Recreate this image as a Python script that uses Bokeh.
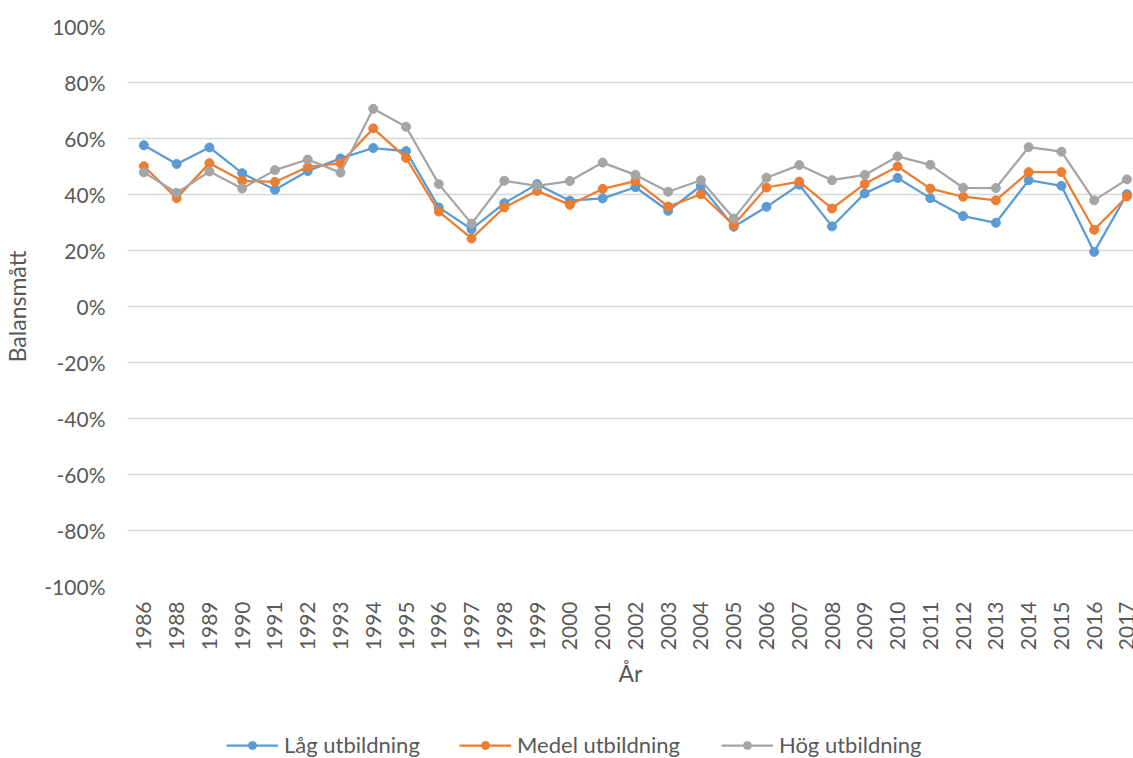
import math
from bokeh.plotting import figure
from bokeh.layouts import column
from bokeh.models import Range1d, FixedTicker, NumeralTickFormatter, Legend, LegendItem
from bokeh.embed import file_html
from bokeh.resources import INLINE

years = ["1986", "1988", "1989", "1990", "1991", "1992", "1993", "1994", "1995", "1996",
         "1997", "1998", "1999", "2000", "2001", "2002", "2003", "2004", "2005", "2006",
         "2007", "2008", "2009", "2010", "2011", "2012", "2013", "2014", "2015", "2016",
         "2017"]

lag = [0.576, 0.509, 0.568, 0.476, 0.417, 0.484, 0.529, 0.566, 0.555, 0.354,
       0.276, 0.369, 0.437, 0.378, 0.386, 0.426, 0.342, 0.431, 0.285, 0.356,
       0.435, 0.286, 0.404, 0.459, 0.387, 0.323, 0.299, 0.451, 0.431, 0.195,
       0.401]
medel = [0.501, 0.387, 0.512, 0.449, 0.445, 0.498, 0.512, 0.636, 0.531, 0.339,
         0.243, 0.354, 0.413, 0.363, 0.420, 0.448, 0.357, 0.401, 0.291, 0.425,
         0.446, 0.350, 0.438, 0.500, 0.421, 0.392, 0.379, 0.480, 0.480, 0.274,
         0.393]
hog = [0.479, 0.406, 0.482, 0.421, 0.487, 0.525, 0.478, 0.706, 0.642, 0.437,
       0.296, 0.449, 0.431, 0.448, 0.514, 0.470, 0.410, 0.451, 0.314, 0.460,
       0.505, 0.451, 0.470, 0.536, 0.506, 0.424, 0.423, 0.569, 0.553, 0.379,
       0.454]

series_names = ["Låg utbildning", "Medel utbildning", "Hög utbildning"]
series_colors = ["#5B9BD5", "#ED7D31", "#A5A5A5"]
y_ticks = [-1.0, -0.8, -0.6, -0.4, -0.2, 0.0, 0.2, 0.4, 0.6, 0.8, 1.0]

FONT = "Lato"
TXT = "#595959"
W = 1133
H_MAIN = 728
H_LEG = 30

idx = list(range(len(years)))
series = [lag, medel, hog]

p = figure(width=W, height=H_MAIN,
           x_range=Range1d(-0.5, 30.2), y_range=Range1d(-1, 1),
           output_backend="svg", toolbar_location=None,
           min_border_left=126, min_border_right=0,
           min_border_top=26, min_border_bottom=H_MAIN - 586)
p.outline_line_color = None
p.xgrid.visible = False
p.ygrid.grid_line_color = "#d9d9d9"
p.ygrid.grid_line_width = 1.5

p.yaxis.ticker = FixedTicker(ticks=y_ticks)
p.yaxis.formatter = NumeralTickFormatter(format="0%")
p.xaxis.ticker = FixedTicker(ticks=idx)
p.xaxis.major_label_overrides = {i: y for i, y in enumerate(years)}
p.xaxis.major_label_orientation = math.pi / 2

for ax in (p.xaxis[0], p.yaxis[0]):
    ax.axis_line_color = None
    ax.major_tick_line_color = None
    ax.minor_tick_line_color = None
    ax.major_tick_out = 0
    ax.major_tick_in = 0
    ax.major_label_text_font = FONT
    ax.major_label_text_font_size = "21px"
    ax.major_label_text_color = TXT
    ax.axis_label_text_font = FONT
    ax.axis_label_text_font_size = "23px"
    ax.axis_label_text_color = TXT
    ax.axis_label_text_font_style = "normal"

p.yaxis.axis_label = "Balansmått"
p.yaxis.major_label_standoff = 22
p.yaxis.axis_label_standoff = 10
p.xaxis.axis_label = "År"
p.xaxis.major_label_standoff = 15
p.xaxis.axis_label_standoff = 6

for vals, color in zip(series, series_colors):
    p.line(idx, vals, line_color=color, line_width=2.25)
    p.scatter(idx, vals, size=9, fill_color=color, line_color=color)

# legend row: same series drawn in a strip whose x range lies beyond the data,
# so only the legend entries are visible
lf = figure(width=W, height=H_LEG, x_range=Range1d(100, 101), y_range=Range1d(-1, 1),
            output_backend="svg", toolbar_location=None,
            min_border_left=0, min_border_right=0, min_border_top=0, min_border_bottom=0)
lf.outline_line_color = None
lf.axis.visible = False
lf.grid.visible = False

legend_x = [99, 332, 594]
for name, vals, color, lx in zip(series_names, series, series_colors, legend_x):
    lr = lf.line(idx, vals, line_color=color, line_width=2.25)
    sr = lf.scatter(idx, vals, size=9, fill_color=color, line_color=color)
    lg = Legend(items=[LegendItem(label=name, renderers=[lr, sr])],
                location=(lx, 0), orientation="horizontal",
                padding=0, margin=0, border_line_color=None,
                background_fill_alpha=0, glyph_width=52, glyph_height=20,
                label_standoff=6, label_text_font=FONT,
                label_text_font_size="22px", label_text_color=TXT)
    lf.add_layout(lg, "center")

layout = column(p, lf, spacing=0)
open("out.html", "w").write(file_html(layout, INLINE))
